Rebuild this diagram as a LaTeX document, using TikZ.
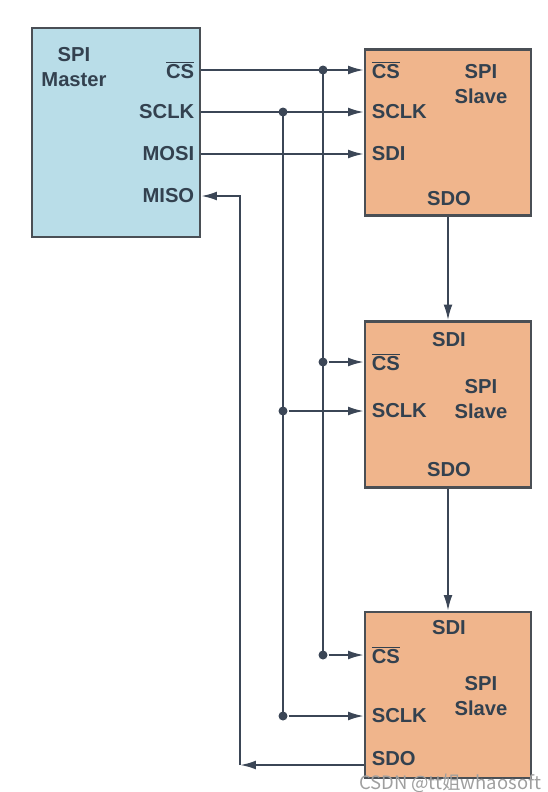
\documentclass[tikz,border=0pt]{standalone}
\usepackage{fontspec}
\setmainfont{Liberation Sans}
\newfontfamily\cjkfont{Noto Sans CJK SC}
\usetikzlibrary{arrows.meta}

\definecolor{masterblue}{HTML}{B9DDE8}
\definecolor{slaveorange}{HTML}{F0B58C}
\definecolor{wirecol}{HTML}{3B4656}
\definecolor{labelcol}{HTML}{33414F}
\definecolor{boxedge}{HTML}{4A4F55}

\begin{document}
\begin{tikzpicture}[x=0.02cm, y=-0.02cm, line width=1.2pt,
    every node/.style={font=\fontsize{11.5}{14}\selectfont\bfseries, text=labelcol}]
    \tikzstyle{chip}=[draw=boxedge, line width=1.2pt, minimum width=3.32cm, minimum height=3.32cm, inner sep=0pt]
    \tikzstyle{pinlbl}=[inner sep=1pt]
    \tikzstyle{wire}=[draw=wirecol]
    \tikzstyle{sigarr}=[draw=wirecol, -{Latex[length=9pt,width=5pt]}]
    \tikzstyle{dot}=[circle, fill=wirecol, inner sep=0pt, minimum size=0.18cm]

    \useasboundingbox (0,0) rectangle (548,792);

    % chips
    \node[chip, fill=masterblue, minimum width=3.36cm, minimum height=4.18cm] (master) at (116,132.5) {};
    \node[chip, fill=slaveorange] (slave1) at (448,132.5) {};
    \node[chip, fill=slaveorange] (slave2) at (448,404.5) {};
    \node[chip, fill=slaveorange] (slave3) at (448,695) {};

    % master texts
    \node[align=center] (mname) at (74,67) {SPI\\Master};
    \node[pinlbl, anchor=east] (mcs) at (197,70) {$\overline{\hbox{CS}}$};
    \node[pinlbl, anchor=east] (msclk) at (197,112) {SCLK};
    \node[pinlbl, anchor=east] (mmosi) at (197,154) {MOSI};
    \node[pinlbl, anchor=east] (mmiso) at (197,196) {MISO};

    % slave 1 texts
    \node[align=center] (s1name) at (481,84) {SPI\\Slave};
    \node[pinlbl, anchor=west] (s1cs) at (369,70) {$\overline{\hbox{CS}}$};
    \node[pinlbl, anchor=west] (s1sclk) at (369,112) {SCLK};
    \node[pinlbl, anchor=west] (s1sdi) at (369,154) {SDI};
    \node[pinlbl] (s1sdo) at (449,199) {SDO};

    % slave 2 texts
    \node[pinlbl] (s2sdi) at (449,340) {SDI};
    \node[pinlbl, anchor=west] (s2cs) at (369,362) {$\overline{\hbox{CS}}$};
    \node[align=center] (s2name) at (481,399) {SPI\\Slave};
    \node[pinlbl, anchor=west] (s2sclk) at (369,411) {SCLK};
    \node[pinlbl] (s2sdo) at (449,470) {SDO};

    % slave 3 texts
    \node[pinlbl] (s3sdi) at (449,628) {SDI};
    \node[pinlbl, anchor=west] (s3cs) at (369,655) {$\overline{\hbox{CS}}$};
    \node[align=center] (s3name) at (481,696) {SPI\\Slave};
    \node[pinlbl, anchor=west] (s3sclk) at (369,716) {SCLK};
    \node[pinlbl, anchor=west] (s3sdo) at (369,759) {SDO};

    % junctions
    \node[dot] (csj1) at (323,70) {};
    \node[dot] (csj2) at (323,362) {};
    \node[dot] (csj3) at (323,655) {};
    \node[dot] (clkj1) at (283,112) {};
    \node[dot] (clkj2) at (283,411) {};
    \node[dot] (clkj3) at (283,716) {};
    \coordinate (misoturn) at (240,765);

    % master to slave 1
    \draw[sigarr] (mcs -| master.east) -- (s1cs -| slave1.west);
    \draw[sigarr] (msclk -| master.east) -- (s1sclk -| slave1.west);
    \draw[sigarr] (mmosi -| master.east) -- (s1sdi -| slave1.west);

    % buses down
    \draw[wire] (csj1.center) -- (csj3.center);
    \draw[wire] (clkj1.center) -- (clkj3.center);
    \draw[sigarr] (csj2) -- (s2cs -| slave2.west);
    \draw[sigarr] (csj3) -- (s3cs -| slave3.west);
    \draw[sigarr] (clkj2) -- (s2sclk -| slave2.west);
    \draw[sigarr] (clkj3) -- (s3sclk -| slave3.west);

    % daisy chain
    \draw[sigarr] (slave1.south) -- (slave2.north);
    \draw[sigarr] (slave2.south) -- (slave3.north);
    \draw[sigarr] (misoturn -| slave3.west) -- (misoturn);
    \draw[sigarr] (misoturn) -- (misoturn |- mmiso) -- (mmiso -| master.east);

    % watermark
    \node[font=\cjkfont\fontsize{10.5}{12}\selectfont, text=gray!75, anchor=west, inner sep=0pt] (mark) at (358,783) {CSDN @tt姐whaosoft};
\end{tikzpicture}
\end{document}
